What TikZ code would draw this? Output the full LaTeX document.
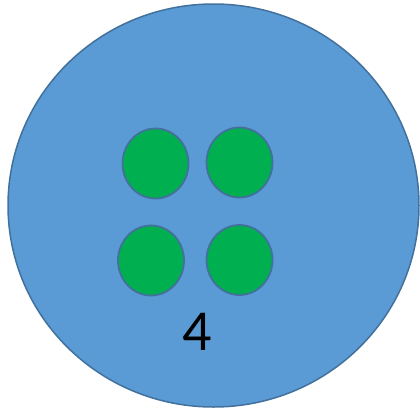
\documentclass[tikz,border=0pt]{standalone}
\usepackage{fontspec}
\setmainfont{Carlito}
\definecolor{bluefill}{HTML}{5B9BD5}
\definecolor{blueedge}{HTML}{41719C}
\definecolor{greenfill}{HTML}{00B050}
\begin{document}
\begin{tikzpicture}[x=1pt,y=-1pt,
  bigdisk/.style={fill=bluefill,draw=blueedge,line width=1.5pt},
  dot/.style={fill=greenfill,draw=blueedge,line width=1.8pt}]
\useasboundingbox (0,0) rectangle (420,410);
\path[bigdisk] (213.5,205.5) ellipse [x radius=205.5, y radius=201.5];
\path[dot] (155.5,163.5) ellipse [x radius=33, y radius=35];
\path[dot] (239.5,162.5) ellipse [x radius=33, y radius=35];
\path[dot] (151,260.5) ellipse [x radius=33, y radius=35];
\path[dot] (239.5,260) ellipse [x radius=33, y radius=35];
\node[anchor=base,inner sep=0pt,font=\fontsize{58}{60}\selectfont] (n) at (197.5,350) {4};
\end{tikzpicture}
\end{document}
